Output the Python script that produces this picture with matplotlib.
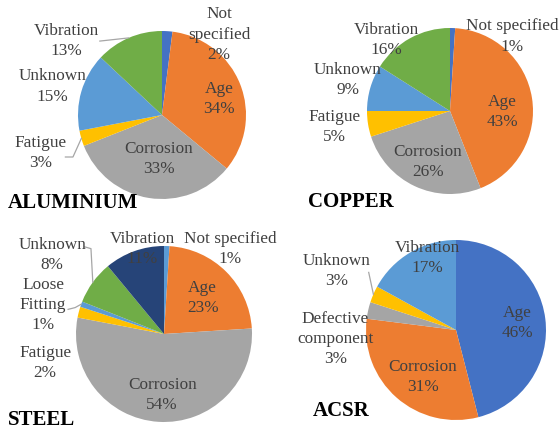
import numpy as np
import matplotlib
matplotlib.use("Agg")
import matplotlib.pyplot as plt

# ---------------- data ----------------
al_labels = ["Not\nspecified", "Age", "Corrosion", "Fatigue", "Unknown", "Vibration"]
al_values = [2, 34, 33, 3, 15, 13]

cu_labels = ["Not specified", "Age", "Corrosion", "Fatigue", "Unknown", "Vibration"]
cu_values = [1, 43, 26, 5, 9, 16]

st_labels = ["Not specified", "Age", "Corrosion", "Fatigue", "Loose\nFitting", "Unknown", "Vibration"]
st_values = [1, 23, 54, 2, 1, 8, 11]

acsr_labels = ["Age", "Corrosion", "Defective\ncomponent", "Unknown", "Vibration"]
acsr_values = [46, 31, 3, 3, 17]

titles = ["ALUMINIUM", "COPPER", "STEEL", "ACSR"]

# ---------------- style ----------------
BLUE = "#4472C4"; ORANGE = "#ED7D31"; GRAY = "#A5A5A5"; GOLD = "#FFC000"
LBLUE = "#5B9BD5"; GREEN = "#70AD47"; NAVY = "#264478"

al_colors = [BLUE, ORANGE, GRAY, GOLD, LBLUE, GREEN]
cu_colors = [BLUE, ORANGE, GRAY, GOLD, LBLUE, GREEN]
st_colors = [LBLUE, ORANGE, GRAY, GOLD, LBLUE, GREEN, NAVY]
acsr_colors = [BLUE, ORANGE, GRAY, GOLD, LBLUE]

W, H = 559, 435
fig = plt.figure(figsize=(W / 100, H / 100), dpi=100)
fig.patch.set_facecolor("white")

FONT = "Liberation Serif"
TXT = "#404040"
LINE = "#A6A6A6"
FS = 12.4

# layout: (cx, cy, r) in pixels, label positions in radius units, title position in pixels
charts = [
    dict(labels=al_labels, values=al_values, colors=al_colors, geom=(162, 116, 84),
         pos=[(0.68, 0.97), (0.68, 0.20), (-0.04, -0.51), (-1.45, -0.44), (-1.30, 0.35), (-1.14, 0.89)],
         leaders={3: [(-1.15, -0.50), (-1.06, -0.50)], 5: [(-0.74, 0.88)]},
         title=titles[0], tpos=(8, 203)),
    dict(labels=cu_labels, values=cu_values, colors=cu_colors, geom=(450, 112, 83),
         pos=[(0.75, 0.91), (0.63, 0.0), (-0.27, -0.60), (-1.39, -0.18), (-1.23, 0.39), (-0.77, 0.87)],
         leaders={},
         title=titles[1], tpos=(308, 202)),
    dict(labels=st_labels, values=st_values, colors=st_colors, geom=(164, 335, 88),
         pos=[(0.75, 0.98), (0.44, 0.42), (-0.02, -0.68), (-1.35, -0.32), (-1.375, 0.34), (-1.27, 0.91), (-0.25, 0.98)],
         leaders={4: [(-1.09, 0.28), (-1.01, 0.30)], 5: [(-0.90, 0.99), (-0.83, 0.97)]},
         title=titles[2], tpos=(8, 420)),
    dict(labels=acsr_labels, values=acsr_values, colors=acsr_colors, geom=(456, 331, 90),
         pos=[(0.68, 0.09), (-0.37, -0.51), (-1.34, -0.09), (-1.33, 0.67), (-0.32, 0.81)],
         leaders={3: [(-0.97, 0.64)]},
         title=titles[3], tpos=(313, 411)),
]

for ch in charts:
    cx, cy, r = ch["geom"]
    ax = fig.add_axes([(cx - r) / W, 1 - (cy + r) / H, 2 * r / W, 2 * r / H])
    vals = np.array(ch["values"], dtype=float)
    wedges, _ = ax.pie(vals, colors=ch["colors"], startangle=90, counterclock=False,
                       radius=1, wedgeprops=dict(linewidth=0))
    ax.set_xlim(-1, 1)
    ax.set_ylim(-1, 1)
    ax.axis("off")
    total = vals.sum()
    for i, (lab, v) in enumerate(zip(ch["labels"], vals)):
        x, y = ch["pos"][i]
        ax.text(x, y, f"{lab}\n{v / total * 100:.0f}%", ha="center", va="center",
                fontsize=FS, family=FONT, color=TXT, linespacing=1.35)
    for i, pts in ch["leaders"].items():
        w = wedges[i]
        mid = np.deg2rad((w.theta1 + w.theta2) / 2)
        xs = [p[0] for p in pts] + [np.cos(mid)]
        ys = [p[1] for p in pts] + [np.sin(mid)]
        ax.plot(xs, ys, color=LINE, lw=0.9, clip_on=False)
    tx, ty = ch["tpos"]
    fig.text(tx / W, 1 - ty / H, ch["title"], ha="left", va="center", fontsize=15,
             fontweight="bold", family=FONT, color="black")

fig.savefig("out.png", dpi=100, facecolor="white")
